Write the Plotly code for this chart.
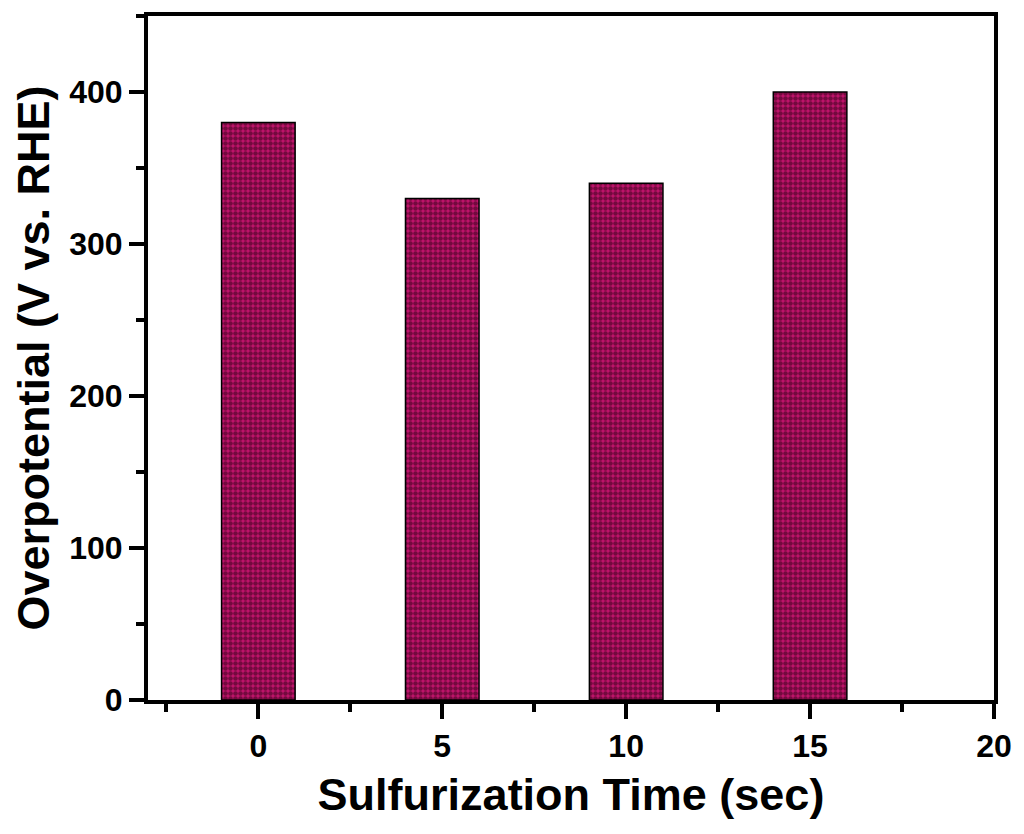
import plotly.graph_objects as go

times = [0, 5, 10, 15]
overpotential = [380, 330, 340, 400]
x_ticks = [0, 5, 10, 15, 20]
y_ticks = [0, 100, 200, 300, 400]

fig = go.Figure()
fig.add_trace(go.Bar(
    x=times, y=overpotential, width=2,
    marker=dict(
        color="#b5115f",
        line=dict(color="black", width=1.5),
        pattern=dict(shape=".", fgcolor="#24000f", bgcolor="#c2146c", size=5, solidity=0.65),
    ),
))

font_family = "Liberation Sans, Arial, sans-serif"
fig.update_layout(
    width=1024, height=834,
    margin=dict(l=148, r=25, t=14, b=134),
    plot_bgcolor="white", paper_bgcolor="white",
    showlegend=False,
    font=dict(family=font_family, color="black"),
)
axis_common = dict(
    showline=True, linecolor="black", linewidth=4, mirror=True,
    ticks="outside", ticklen=15, tickwidth=3.5, tickcolor="black",
    showgrid=False, zeroline=False,
    tickfont=dict(family=font_family, size=32, color="black", weight="bold"),
)
fig.update_xaxes(
    range=[-3, 20], tickvals=x_ticks,
    minor=dict(ticks="outside", ticklen=8, tickwidth=3.5, tickcolor="black", dtick=2.5, tick0=0),
    title=dict(text="<b>Sulfurization Time (sec)</b>", font=dict(size=45, family=font_family), standoff=16),
    ticklabelstandoff=0,
    **axis_common,
)
fig.update_yaxes(
    range=[0, 450], tickvals=y_ticks,
    minor=dict(ticks="outside", ticklen=8, tickwidth=3.5, tickcolor="black", dtick=50, tick0=0),
    title=dict(text="<b>Overpotential (V vs. RHE)</b>", font=dict(size=45, family=font_family), standoff=6),
    ticklabelstandoff=0,
    **axis_common,
)
fig.write_html("out.html")
